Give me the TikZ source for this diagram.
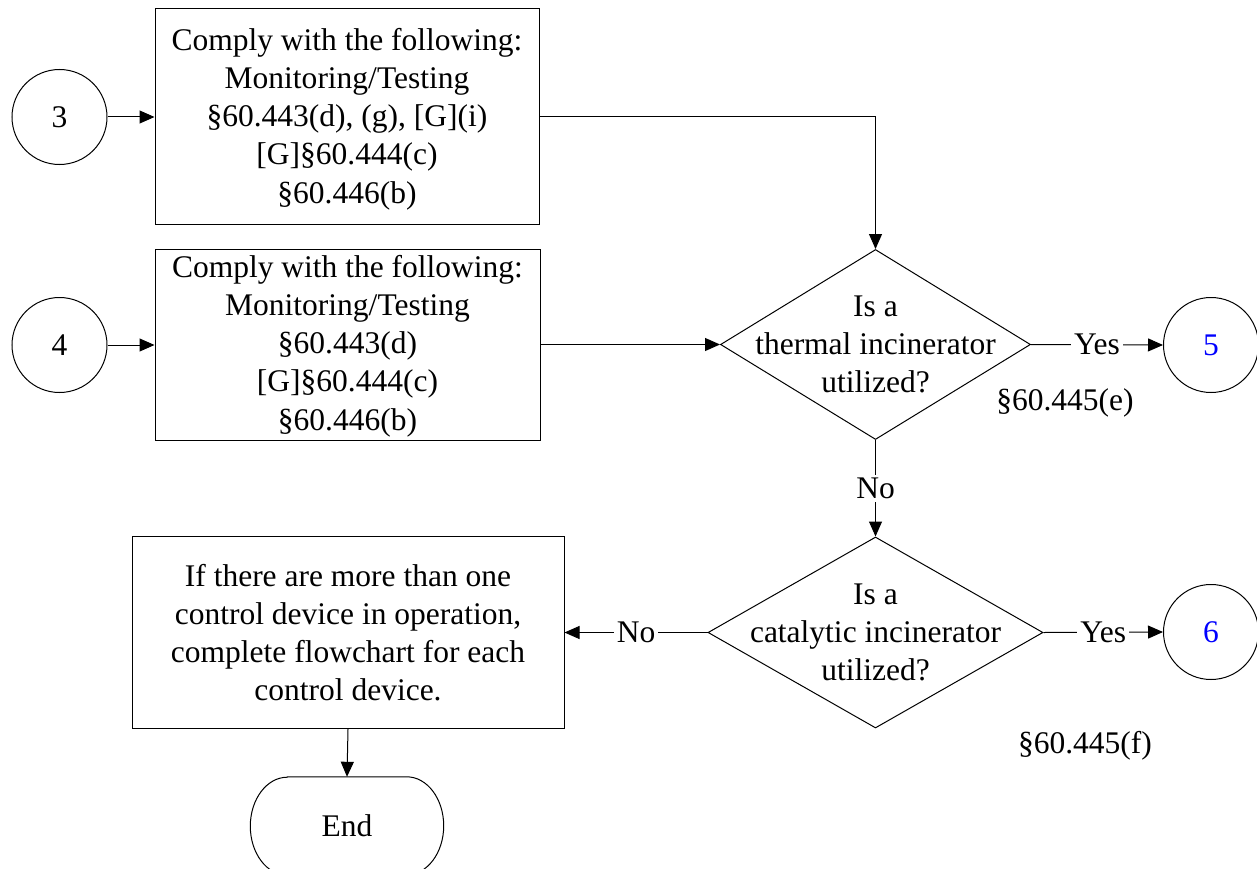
\documentclass[tikz,border=0pt]{standalone}
\usepackage{fontspec}
\setmainfont{Liberation Serif}
\usetikzlibrary{arrows.meta,shapes.geometric}
\begin{document}
\begin{tikzpicture}[x=1pt,y=-1pt,
  every node/.style={font=\fontsize{31.5}{38.2}\selectfont},
  line/.style={line width=1pt,draw=black},
  arr/.style={line,-{Triangle[length=15pt,width=13pt]}},
  box/.style={rectangle,line,inner sep=0pt,align=center},
  circ/.style={circle,line,inner sep=0pt,minimum size=95pt},
  dia/.style={diamond,line,inner sep=0pt},
  lbl/.style={fill=white,inner sep=3pt},
  txt/.style={align=center,inner sep=0pt}
]
\useasboundingbox (0,0) rectangle (1257,869);
\fill[white] (0,0) rectangle (1257,869);

% circles
\node[circ] (c3) at (59.5,117) {3};
\node[circ] (c4) at (59.5,345) {4};
\node[circ,text=blue] (c5) at (1211,345) {5};
\node[circ,text=blue] (c6) at (1211,632) {6};

% boxes
\node[box,minimum width=384pt,minimum height=215pt] (b1) at (347,116.5) {};
\node[txt] (b1t) at (347,119) {Comply with the following:\\Monitoring/Testing\\\S60.443(d), (g), [G](i)\\{}[G]\S60.444(c)\\\S60.446(b)};
\node[box,minimum width=385pt,minimum height=191pt] (b2) at (347.5,344.5) {};
\node[txt] (b2t) at (347.5,346) {Comply with the following:\\Monitoring/Testing\\\S60.443(d)\\{}[G]\S60.444(c)\\\S60.446(b)};
\node[box,minimum width=432pt,minimum height=192pt] (b3) at (348,632.5)
  {If there are more than one\\control device in operation,\\complete flowchart for each\\control device.};

% diamonds
\node[dia,minimum width=310pt,minimum height=190pt] (d1) at (875.5,344.5) {};
\node[txt] (t1) at (d1.center) {Is a\\thermal incinerator\\utilized?};
\node[dia,minimum width=335pt,minimum height=191pt] (d2) at (875.5,632.5) {};
\node[txt] (t2) at (d2.center) {Is a\\catalytic incinerator\\utilized?};

% End terminator
\node[minimum width=193pt,minimum height=98pt,inner sep=0pt] (e) at (347,826) {End};
\draw[line] ([xshift=37pt]e.north west) -- ([xshift=-37pt]e.north east)
  arc[start angle=90,end angle=-90,x radius=37pt,y radius=49pt]
  -- ([xshift=37pt]e.south west)
  arc[start angle=270,end angle=90,x radius=37pt,y radius=49pt] -- cycle;

% references
\node[inner sep=0pt] (r1) at (1065,403) {\S60.445(e)};
\node[inner sep=0pt] (r2) at (1085,746) {\S60.445(f)};

% connectors
\draw[arr] (c3) -- (b1.west |- c3);
\draw[arr] (c4) -- (b2.west |- c4);
\draw[arr] (b1.east) -| (d1.north);
\draw[arr] (b2.east |- d1) -- (d1.west);
\draw[arr] (d1.east) -- node[lbl] {Yes} (c5.west);
\draw[arr] (d1.south) -- node[lbl] {No} (d2.north);
\draw[arr] (d2.east) -- node[lbl] {Yes} (c6.west);
\draw[arr] (d2.west) -- node[lbl] {No} (b3.east |- d2);
\draw[arr] (b3.south) -- (e.north);
\end{tikzpicture}
\end{document}
